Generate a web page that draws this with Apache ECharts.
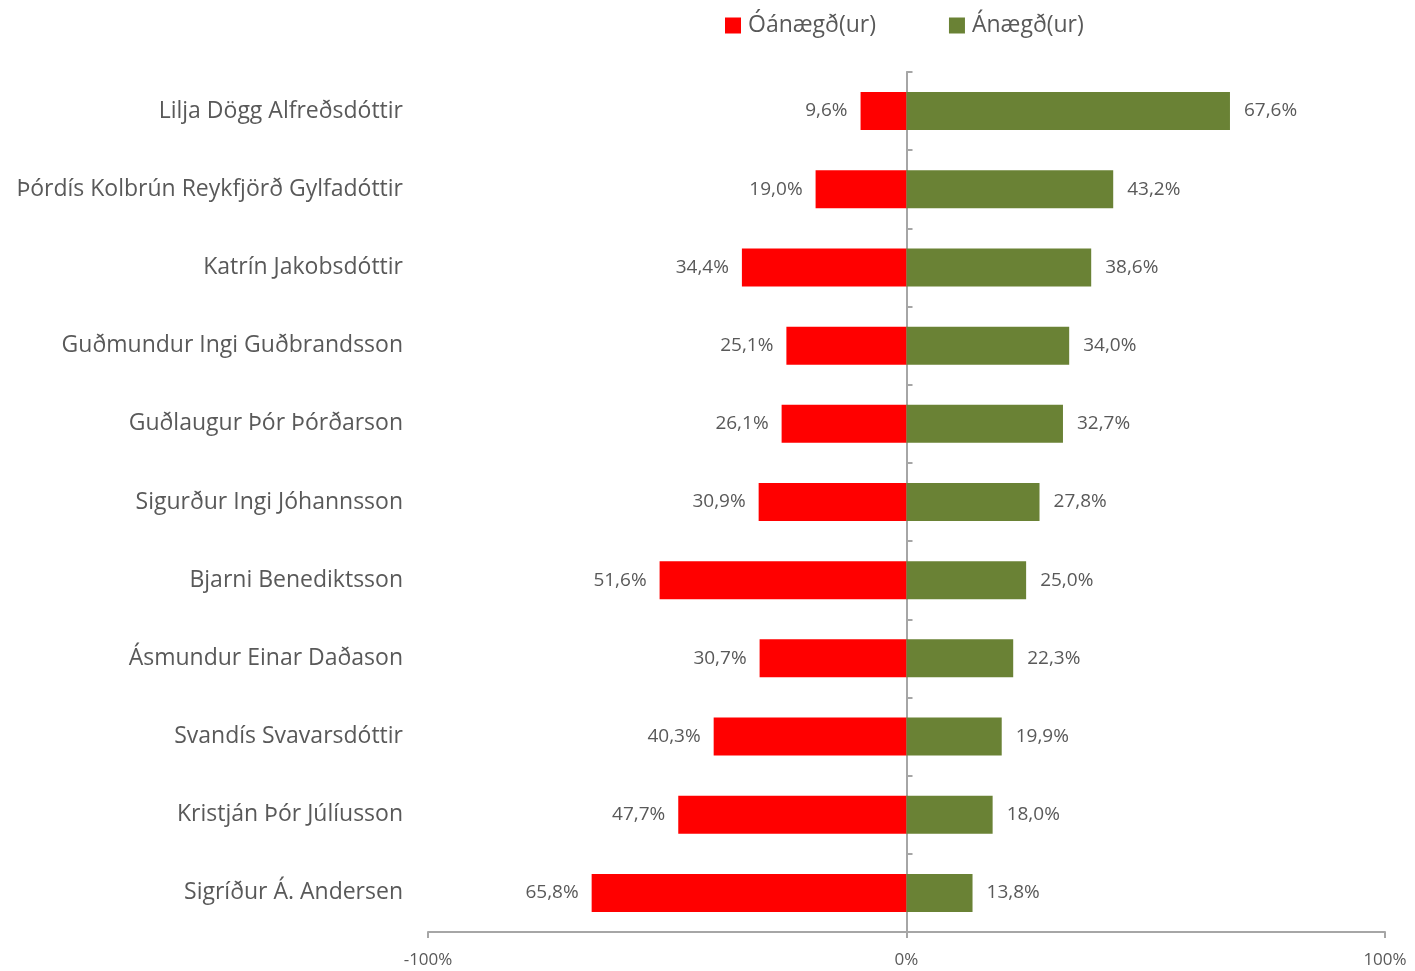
<!DOCTYPE html>
<html>
<head>
<meta charset="utf-8">
<script src="https://cdn.jsdelivr.net/npm/echarts@6/dist/echarts.min.js"></script>
<style>
html,body{margin:0;padding:0;background:#fff;}
#chart{width:1415px;height:971px;}
</style>
</head>
<body>
<div id="chart"></div>
<script>
const categories = [
  "Lilja Dögg Alfreðsdóttir",
  "Þórdís Kolbrún Reykfjörð Gylfadóttir",
  "Katrín Jakobsdóttir",
  "Guðmundur Ingi Guðbrandsson",
  "Guðlaugur Þór Þórðarson",
  "Sigurður Ingi Jóhannsson",
  "Bjarni Benediktsson",
  "Ásmundur Einar Daðason",
  "Svandís Svavarsdóttir",
  "Kristján Þór Júlíusson",
  "Sigríður Á. Andersen"
];
const dissatisfied = [9.6, 19.0, 34.4, 25.1, 26.1, 30.9, 51.6, 30.7, 40.3, 47.7, 65.8];
const satisfied = [67.6, 43.2, 38.6, 34.0, 32.7, 27.8, 25.0, 22.3, 19.9, 18.0, 13.8];
const seriesNames = ["Óánægð(ur)", "Ánægð(ur)"];
const tickLabels = {"-100": "-100%", "0": "0%", "100": "100%"};

const FONT = "Open Sans";
const TXT = "#595959";
const fmt = v => Math.abs(v).toFixed(1).replace('.', ',') + '%';

const chart = echarts.init(document.getElementById('chart'));
chart.setOption({
  animation: false,
  textStyle: {fontFamily: FONT},
  legend: {
    top: 14, left: 725, padding: 0,
    itemWidth: 16, itemHeight: 16, itemGap: 73,
    icon: 'rect',
    textStyle: {fontFamily: FONT, fontSize: 23, color: TXT, padding: [0,0,0,2]},
    data: seriesNames
  },
  grid: {left: 428, right: 30, top: 72, bottom: 39, containLabel: false},
  xAxis: {
    type: 'value', min: -100, max: 100, interval: 100,
    splitLine: {show: false},
    axisLine: {show: true, lineStyle: {color: '#A6A6A6', width: 2}},
    axisTick: {show: true, length: 6, lineStyle: {color: '#A6A6A6', width: 2}},
    axisLabel: {fontFamily: FONT, fontSize: 17, color: TXT, margin: 20,
      formatter: v => tickLabels[String(v)]}
  },
  yAxis: [
    {
      type: 'category', data: categories, inverse: true,
      axisLine: {show: false, onZero: false}, axisTick: {show: false},
      axisLabel: {fontFamily: FONT, fontSize: 23, color: TXT, margin: 25, padding: [2,0,0,0]}
    },
    {
      type: 'category', data: categories, inverse: true,
      axisLine: {show: true, onZero: true, lineStyle: {color: '#A6A6A6', width: 2}},
      axisTick: {show: true, length: 6, lineStyle: {color: '#A6A6A6', width: 2}},
      axisLabel: {show: false}
    }
  ],
  series: [
    {
      name: seriesNames[0], type: 'bar', barWidth: 38, barGap: '-100%',
      data: dissatisfied.map(v => -v),
      itemStyle: {color: '#FF0000'},
      label: {show: true, position: 'left', distance: 13, fontFamily: FONT, fontSize: 19, color: TXT,
        padding: [3,0,0,0], formatter: p => fmt(p.value)}
    },
    {
      name: seriesNames[1], type: 'bar', barWidth: 38, barGap: '-100%',
      data: satisfied,
      itemStyle: {color: '#6A8235'},
      label: {show: true, position: 'right', distance: 14, fontFamily: FONT, fontSize: 19, color: TXT,
        padding: [3,0,0,0], formatter: p => fmt(p.value)}
    }
  ]
});
</script>
</body>
</html>
